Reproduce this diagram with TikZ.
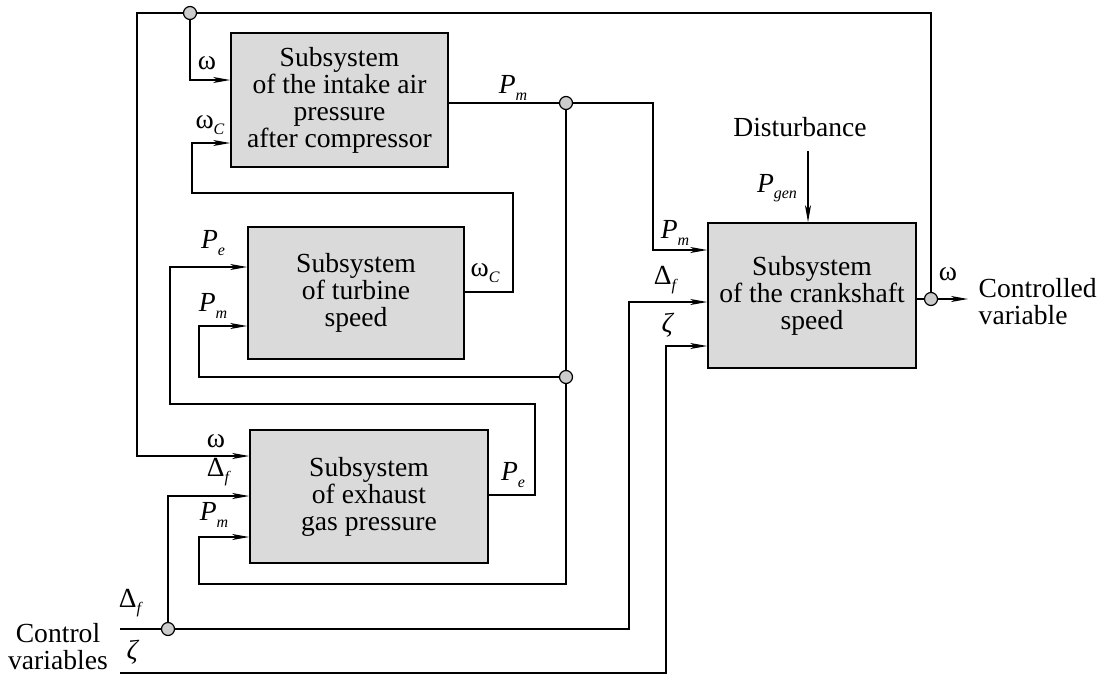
\documentclass[tikz,border=0pt]{standalone}
\usepackage{fontspec}
\setmainfont{Liberation Serif}
\usetikzlibrary{arrows.meta}
\newcommand{\ssub}[2]{#1\raisebox{-0.5ex}{\fontsize{8}{8}\selectfont\itshape #2}}
\definecolor{boxgray}{gray}{0.855}
\definecolor{dotgray}{gray}{0.8}
\begin{document}
\begin{tikzpicture}[x=0.5pt,y=-0.5pt,
  font=\fontsize{13.8}{13.5}\selectfont,
  line width=0.7pt,
  sub/.style={draw, fill=boxgray, line width=0.8pt, align=center, inner sep=0pt},
  arr/.style={-{Stealth[length=8.5pt,width=3pt,inset=2.2pt]}},
  junc/.style={circle, draw, fill=dotgray, inner sep=0pt, minimum size=6.5pt, line width=0.6pt},
  lbl/.style={inner sep=0pt}]
\useasboundingbox (0,0) rectangle (1102,675);

% boxes
\node[sub, minimum width=108.5pt, minimum height=67pt] (b1) at (339.5,100)
  {Subsystem\\of the intake air\\pressure\\after compressor};
\node[sub, minimum width=108pt, minimum height=66pt] (b2) at (356,293)
  {Subsystem\\of turbine\\speed};
\node[sub, minimum width=119pt, minimum height=66.5pt] (b3) at (369,496.5)
  {Subsystem\\of exhaust\\gas pressure};
\node[sub, minimum width=104pt, minimum height=72.5pt] (b4) at (812,295.5)
  {Subsystem\\of the crankshaft\\speed};

% coordinates
\coordinate (jT) at (190,13);
\coordinate (jP) at (566,103);
\coordinate (jP2) at (566,377);
\coordinate (jW) at (931,299);
\coordinate (jD) at (168,629);
\coordinate (cvD) at (120,629);
\coordinate (cvZ) at (120,673);
\coordinate (out) at (968,299);
\coordinate (dst) at (808,151);

% connectors
\draw[arr] (jW) |- (137,13) |- (b3.west |- 0,456);
\draw[arr] (jT) |- (b1.west |- 0,80);
\draw[arr] (b2.east |- 0,292) -| (513,193) -| (192,143) -- (b1.west |- 0,143);
\draw[arr] (b1.east |- 0,103) -- (jP) -| (653,250) -- (b4.west |- 0,250);
\draw[arr] (jP) -- (jP2) -- (566,584) -| (199,537) -- (b3.west |- 0,537);
\draw[arr] (jP2) -| (199,326) -- (b2.west |- 0,326);
\draw[arr] (b3.east |- 0,495) -| (535,404) -| (170,267) -- (b2.west |- 0,267);
\draw[arr] (cvD) -| (629,302) -- (b4.west |- 0,302);
\draw[arr] (jD) |- (b3.west |- 0,496);
\draw[arr] (cvZ) -| (666,346) -- (b4.west |- 0,346);
\draw[arr] (dst) -- (dst |- b4.north);
\draw[arr] (b4.east |- 0,299) -- (out);

% junction dots
\node[junc] (nT) at (jT) {};
\node[junc] (nP) at (jP) {};
\node[junc] (nP2) at (jP2) {};
\node[junc] (nW) at (jW) {};
\node[junc] (nD) at (jD) {};

% labels
\node[lbl] (l1) at (207,63) {ω};
\node[lbl] (l2) at (210,125) {\ssub{ω}{C}};
\node[lbl] (l3) at (513,88) {\ssub{\textit{P}}{m}};
\node[lbl] (l4) at (213,243) {\ssub{\textit{P}}{e}};
\node[lbl] (l5) at (213,306) {\ssub{\textit{P}}{m}};
\node[lbl] (l6) at (485,273) {\ssub{ω}{C}};
\node[lbl] (l7) at (216,441) {ω};
\node[lbl] (l8) at (218,472) {\ssub{Δ}{f}};
\node[lbl] (l9) at (214,515) {\ssub{\textit{P}}{m}};
\node[lbl] (l10) at (513,475) {\ssub{\textit{P}}{e}};
\node[lbl] (l11) at (675,233) {\ssub{\textit{P}}{m}};
\node[lbl] (l12) at (665,280) {\ssub{Δ}{f}};
\node[lbl] (l13) at (668,325) {\textit{ζ}};
\node[lbl] (l14) at (777,188) {\ssub{\textit{P}}{gen}};
\node[lbl] (dist) at (800,127) {Disturbance};
\node[lbl] (l15) at (948,274) {ω};
\node[lbl, anchor=west, align=left] (cv) at (978,302) {Controlled\\variable};
\node[lbl, align=center] (ctl) at (58,647) {Control\\variables};
\node[lbl] (l16) at (130,603) {\ssub{Δ}{f}};
\node[lbl] (l17) at (133,652) {\textit{ζ}};
\end{tikzpicture}
\end{document}
